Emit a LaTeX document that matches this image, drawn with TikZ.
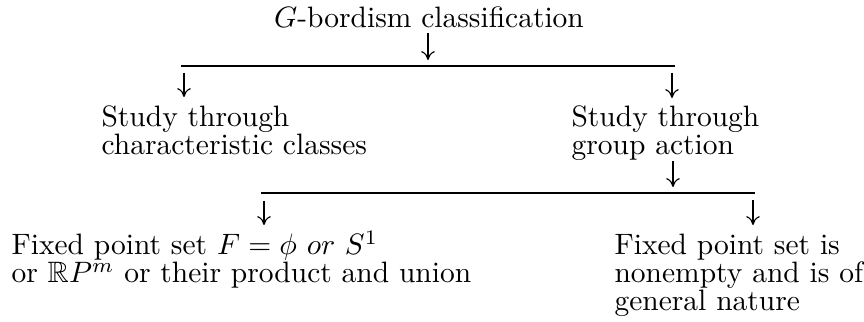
\documentclass[tikz,border=0pt]{standalone}
\usepackage{amssymb}
\usetikzlibrary{arrows.meta}
\begin{document}
\begin{tikzpicture}[x=0.339pt,y=-0.339pt,
  txt/.style={inner sep=0pt, anchor=base west, align=left,
    font={\fontsize{10pt}{9.5pt}\selectfont\lineskiplimit-100pt\relax}},
  arr/.style={line width=0.4pt,-{Computer Modern Rightarrow[length=3pt,width=4.6pt]}},
  rulestyle/.style={line width=0.4pt}]
\useasboundingbox (0,0) rectangle (864,322);
% texts (base anchor = baseline of the last line)
\node[txt, anchor=base] (title) at (429,28) {$G$-bordism classification};
\node[txt] (sc) at (101,155) {Study through\\characteristic classes};
\node[txt] (sg) at (571,155) {Study through\\group action};
\node[txt] (fa) at (11,283) {Fixed point set $F=\phi$ $or$ $S^1$\\or $\mathbb{R}P^m$ or their product and union};
\node[txt] (fb) at (614,311) {Fixed point set is\\nonempty and is of\\general nature};
% rules
\coordinate (r1w) at (181,66); \coordinate (r1e) at (675,66);
\coordinate (r2w) at (261,193); \coordinate (r2e) at (755,193);
\draw[rulestyle] (r1w) -- (r1e);
\draw[rulestyle] (r2w) -- (r2e);
% arrow anchors
\coordinate (a0s) at (428,33);  \coordinate (a0e) at (428,60);
\coordinate (a1s) at (184,73);  \coordinate (a1e) at (184,97);
\coordinate (a2s) at (672,73);  \coordinate (a2e) at (672,98);
\coordinate (a3s) at (673,161); \coordinate (a3e) at (673,187);
\coordinate (a4s) at (264,201); \coordinate (a4e) at (264,225);
\coordinate (a5s) at (753,200); \coordinate (a5e) at (753,225);
\draw[arr] (a0s) -- (a0e);
\draw[arr] (a1s) -- (a1e);
\draw[arr] (a2s) -- (a2e);
\draw[arr] (a3s) -- (a3e);
\draw[arr] (a4s) -- (a4e);
\draw[arr] (a5s) -- (a5e);
\end{tikzpicture}
\end{document}
